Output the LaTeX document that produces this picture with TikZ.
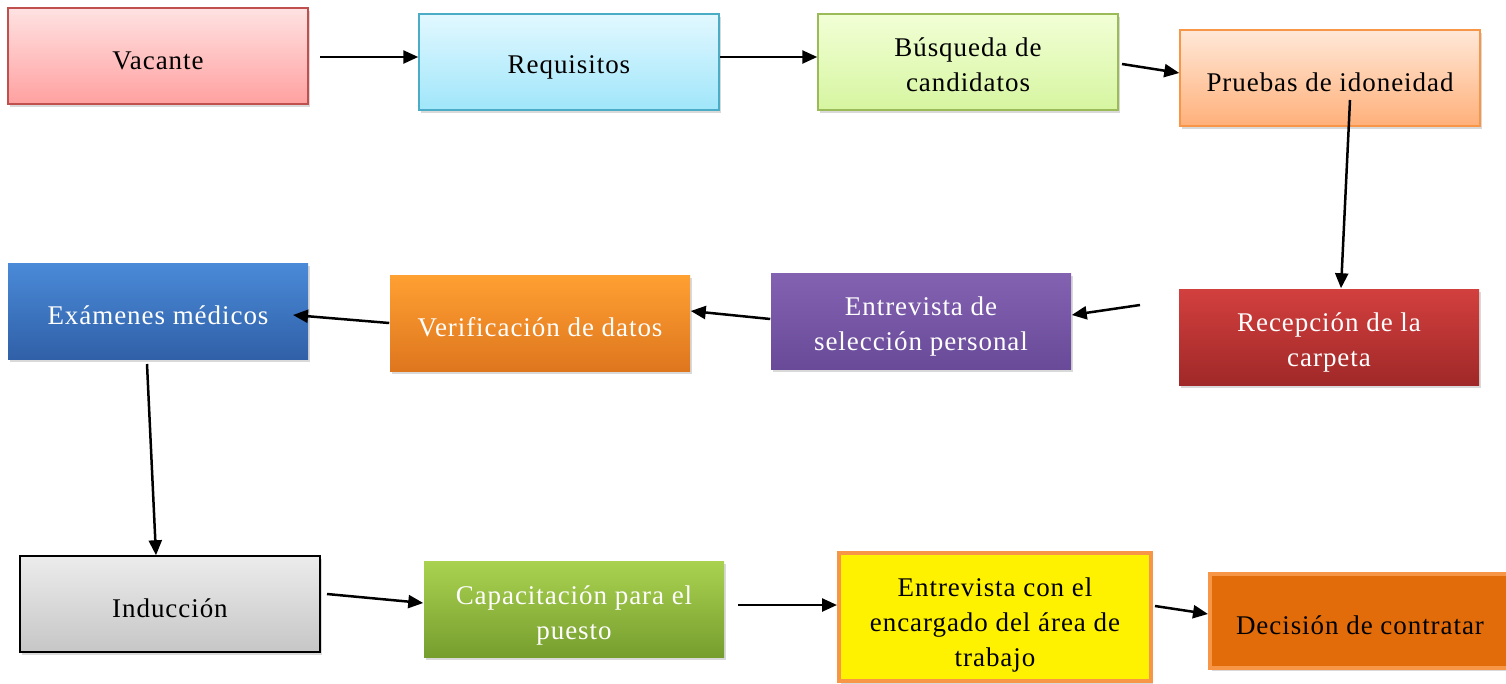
\documentclass[tikz,border=0pt]{standalone}
\usepackage{fontspec}
\setmainfont[LetterSpace=3.5]{Liberation Serif}
\usetikzlibrary{arrows.meta,shadows}

\definecolor{vacLine}{HTML}{C0504D}
\definecolor{reqLine}{HTML}{4BACC6}
\definecolor{busLine}{HTML}{9BBB59}
\definecolor{pruLine}{HTML}{F79646}
\definecolor{indLine}{HTML}{000000}

% pushes the first line of a box a little lower
\newcommand{\lift}[1]{\rule{0pt}{#1}}

\begin{document}
\begin{tikzpicture}[x=1pt, y=-1pt,
    box/.style={draw, align=center, minimum width=300pt, minimum height=96pt, inner sep=2pt, line width=1.5pt, font=\fontsize{27}{35}\selectfont, execute at begin node={\lift{28pt}}, drop shadow={shadow xshift=2pt, shadow yshift=-3pt, opacity=0.3}},
    darkbox/.style={box, draw=none, text=white},
    arrow/.style={-{Triangle[length=15pt,width=13pt]}, line width=2.5pt}]
    \useasboundingbox (0,0) rectangle (1506,683);

    % first row
    \node[box, draw=vacLine, top color={rgb,255:red,255;green,226;blue,226}, bottom color={rgb,255:red,255;green,160;blue,160}] (vac) at (158,56) {Vacante};
    \node[box, draw=reqLine, top color={rgb,255:red,226;green,248;blue,255}, bottom color={rgb,255:red,160;green,230;blue,250}] (req) at (569,62) {Requisitos};
    \node[box, draw=busLine, top color={rgb,255:red,242;green,255;blue,214}, bottom color={rgb,255:red,214;green,245;blue,160}] (bus) at (968,62) {\lift{24pt}Búsqueda de\\candidatos};
    \node[box, draw=pruLine, top color={rgb,255:red,255;green,232;blue,216}, bottom color={rgb,255:red,255;green,176;blue,122}] (pru) at (1330,78) {Pruebas de idoneidad};

    % second row
    \node[darkbox, top color={rgb,255:red,210;green,64;blue,62}, bottom color={rgb,255:red,160;green,40;blue,40}] (rec) at (1329,337) {\lift{30pt}Recepción de la\\carpeta};
    \node[darkbox, top color={rgb,255:red,132;green,98;blue,178}, bottom color={rgb,255:red,104;green,74;blue,152}] (ent) at (921,321) {\lift{30pt}Entrevista de\\selección personal};
    \node[darkbox, top color={rgb,255:red,255;green,160;blue,50}, bottom color={rgb,255:red,222;green,118;blue,30}] (ver) at (540,323) {Verificación de datos};
    \node[darkbox, top color={rgb,255:red,74;green,138;blue,216}, bottom color={rgb,255:red,48;green,96;blue,168}] (exa) at (158,311) {Exámenes médicos};

    % third row
    \node[box, draw=indLine, top color={rgb,255:red,236;green,236;blue,236}, bottom color={rgb,255:red,198;green,198;blue,198}] (ind) at (170,604) {Inducción};
    \node[darkbox, top color={rgb,255:red,170;green,210;blue,80}, bottom color={rgb,255:red,118;green,158;blue,46}] (cap) at (574,609) {\lift{32pt}Capacitación para el\\puesto};
    \node[box, draw=pruLine, line width=4pt, fill=yellow, minimum width=312pt, minimum height=128pt, drop shadow={opacity=0}] (enc) at (995,617) {\lift{34pt}Entrevista con el\\encargado del área de\\trabajo};
    \node[box, draw=pruLine, line width=4pt, fill={rgb,255:red,227;green,108;blue,10}, minimum height=94pt, drop shadow={opacity=0}] (dec) at (1360,621) {Decisión de contratar};

    % free ends of the connectors
    \coordinate (c1) at (320,57);
    \coordinate (c3) at (1122,64);
    \coordinate (c4) at (1350,100);
    \coordinate (c5) at (1140,305);
    \coordinate (c8) at (147,364);
    \coordinate (c9) at (327,594);
    \coordinate (c10) at (738,605);
    \coordinate (c11) at (1155,606);

    \draw[arrow] (c1) -- (req.west |- c1);
    \draw[arrow] (req.east |- c1) -- (bus.west |- c1);
    \draw[arrow] (c3) -- ([yshift=5pt]pru.west);
    \draw[arrow] (c4) -- ([xshift=12pt]rec.north);
    \draw[arrow] (c5) -- ([yshift=6pt]ent.east);
    \draw[arrow] ([yshift=2pt]ent.west) -- ([yshift=12pt]ver.east);
    \draw[arrow] (ver.west) -- (293,315);
    \draw[arrow] (c8) -- ([xshift=-14pt]ind.north);
    \draw[arrow] (c9) -- ([yshift=6pt]cap.west);
    \draw[arrow] (c10) -- (enc.west |- c10);
    \draw[arrow] (c11) -- ([yshift=7pt]dec.west);
\end{tikzpicture}
\end{document}
